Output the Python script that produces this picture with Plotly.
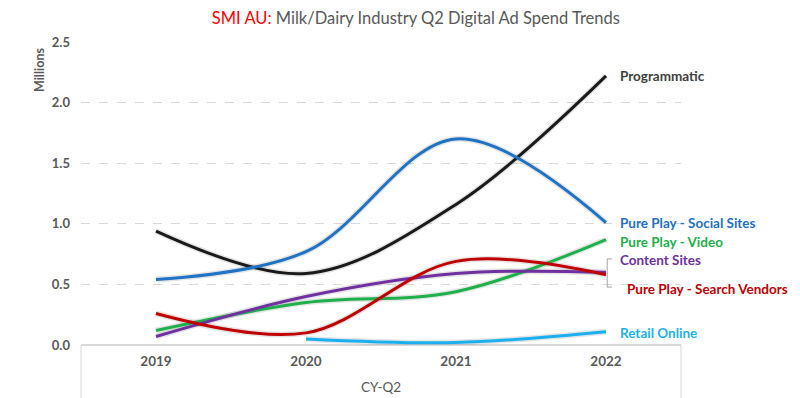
import plotly.graph_objects as go

years = ["2019", "2020", "2021", "2022"]
programmatic = [0.94, 0.59, 1.16, 2.22]
social_sites = [0.54, 0.77, 1.70, 1.01]
video = [0.12, 0.35, 0.44, 0.87]
content_sites = [0.07, 0.40, 0.59, 0.60]
search_vendors = [0.26, 0.10, 0.69, 0.58]
retail_years = ["2020", "2021", "2022"]
retail_online = [0.05, 0.02, 0.11]

series = [
    ("Programmatic", years, programmatic, "#1a1a1a"),
    ("Pure Play - Social Sites", years, social_sites, "#1f72c4"),
    ("Pure Play - Video", years, video, "#1db04b"),
    ("Content Sites", years, content_sites, "#7030a0"),
    ("Pure Play - Search Vendors", years, search_vendors, "#c00000"),
    ("Retail Online", retail_years, retail_online, "#1ab0ef"),
]
label_shift = {
    "Programmatic": (12, 0),
    "Pure Play - Social Sites": (12, 0),
    "Pure Play - Video": (12, -2),
    "Content Sites": (12, 12),
    "Pure Play - Search Vendors": (19, -14),
    "Retail Online": (12, -1),
}

fig = go.Figure()
for name, xs, ys, color in series:
    fig.add_trace(go.Scatter(x=xs, y=ys, mode="lines", showlegend=False, hoverinfo="skip",
                             line=dict(color="rgba(0,0,0,0.10)", width=6, shape="spline", smoothing=1.0)))
for name, xs, ys, color in series:
    fig.add_trace(go.Scatter(x=xs, y=ys, mode="lines", name=name, showlegend=False,
                             line=dict(color=color, width=3, shape="spline", smoothing=1.0)))

# right-side labels, anchored at each series' last value (x=0.875 of the plot width = last category)
for name, xs, ys, color in series:
    dx, dy = label_shift[name]
    fig.add_annotation(x=0.875, y=ys[-1], xref="paper", yref="y", text=name, showarrow=False,
                       xanchor="left", yanchor="middle", xshift=dx, yshift=dy,
                       font=dict(family="Lato", size=13.5,
                                 color="#404040" if color == "#1a1a1a" else color,
                                 weight="bold"))

# bracket leader for the two overlapping labels
fig.add_shape(type="path", xref="paper", yref="paper",
              path="M 0.885 0.284 L 0.877 0.284 L 0.877 0.191 L 0.885 0.191",
              line=dict(color="#a6a6a6", width=1))

# axis box below the zero line
fig.add_shape(type="line", xref="paper", yref="paper", x0=0, x1=0, y0=0, y1=-0.2,
              line=dict(color="#d9d9d9", width=1))
fig.add_shape(type="line", xref="paper", yref="paper", x0=1, x1=1, y0=0, y1=-0.2,
              line=dict(color="#d9d9d9", width=1))

fig.add_annotation(text="Millions", xref="paper", yref="paper", x=-0.068, y=0.908, showarrow=False,
                   textangle=-90, xanchor="center", yanchor="middle",
                   font=dict(family="Lato", size=12.5, color="#595959", weight="bold"))

fig.update_layout(
    width=792, height=390,
    margin=dict(l=73, r=119, t=34, b=53, autoexpand=False),
    paper_bgcolor="white", plot_bgcolor="white",
    title=dict(text="<span style='color:#ff0000'>SMI AU:</span> Milk/Dairy Industry Q2 Digital Ad Spend Trends",
               x=0.515, xanchor="center", y=0.974, yanchor="middle",
               font=dict(family="Lato", size=16.5, color="#595959")),
    xaxis=dict(type="category", categoryorder="array", categoryarray=years, range=[-0.5, 3.5],
               showgrid=False, showline=False, zeroline=False, ticks="", ticklabelstandoff=6,
               automargin=False,
               tickfont=dict(family="Lato", size=13.5, color="#595959", weight="bold"),
               title=dict(text="CY-Q2", standoff=15,
                          font=dict(family="Lato", size=13.5, color="#595959"))),
    yaxis=dict(range=[0, 2.5], dtick=0.5, tickformat=".1f", automargin=False,
               showgrid=True, gridcolor="#d9d9d9", griddash="dash", gridwidth=1,
               zeroline=True, zerolinecolor="#d9d9d9", zerolinewidth=1.5,
               showline=False, ticks="", ticklabelstandoff=10,
               tickfont=dict(family="Lato", size=13, color="#595959", weight="bold")),
)

fig.write_html("out.html")
